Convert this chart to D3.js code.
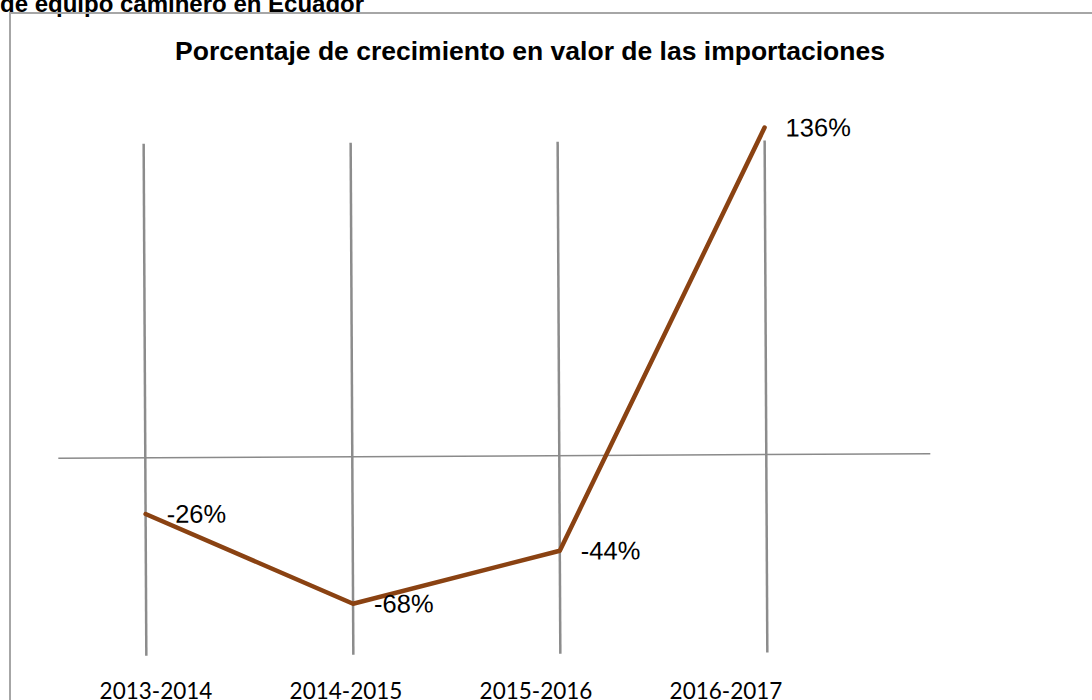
<!DOCTYPE html>
<html>
<head>
<meta charset="utf-8">
<script src="https://cdn.jsdelivr.net/npm/d3@7"></script>
<style>
  body { margin: 0; background: #fff; }
  svg { display: block; }
</style>
</head>
<body>
<div id="chart"></div>
<script>
// Data
const periods = ['2013-2014', '2014-2015', '2015-2016', '2016-2017'];
const growth = [-26, -68, -44, 136];
const valueLabels = ['-26%', '-68%', '-44%', '136%'];

const width = 1092, height = 700;

const svg = d3.select('#chart').append('svg')
    .attr('width', width)
    .attr('height', height);

// Heading of the document, cut at the top
svg.append('text')
    .attr('x', 0)
    .attr('y', 11.5)
    .attr('font-family', 'Liberation Sans, Arial, sans-serif')
    .attr('font-weight', 'bold')
    .attr('font-size', 24)
    .attr('fill', '#000')
    .text('de equipo caminero en Ecuador');

// Chart frame
svg.append('rect')
    .attr('x', 10)
    .attr('y', 13)
    .attr('width', 1100)
    .attr('height', 720)
    .attr('fill', 'none')
    .attr('stroke', '#a6a6a6')
    .attr('stroke-width', 2);

// Chart title
svg.append('text')
    .attr('x', 530)
    .attr('y', 60)
    .attr('text-anchor', 'middle')
    .attr('font-family', 'Liberation Sans, Arial, sans-serif')
    .attr('font-weight', 'bold')
    .attr('font-size', 26.5)
    .attr('fill', '#000')
    .text('Porcentaje de crecimiento en valor de las importaciones');

// Scales
const x = d3.scalePoint()
    .domain(periods)
    .range([145, 766]);

const y = d3.scaleLinear()
    .domain([-68, 0, 136])
    .range([603, 456, 129]);

// Plot area, very slightly tilted like the scan
const plot = svg.append('g')
    .attr('transform', 'rotate(-0.3, 494, 400)');

// Vertical gridlines
plot.selectAll('.grid')
    .data(periods)
    .enter()
    .append('line')
    .attr('class', 'grid')
    .attr('x1', d => x(d))
    .attr('x2', d => x(d))
    .attr('y1', 142)
    .attr('y2', 654)
    .attr('stroke', '#8c8c8c')
    .attr('stroke-width', 2.5);

// Zero axis line
plot.append('line')
    .attr('x1', 58)
    .attr('x2', 930)
    .attr('y1', y(0))
    .attr('y2', y(0))
    .attr('stroke', '#8a8a8a')
    .attr('stroke-width', 1.5);

// Growth line
const line = d3.line()
    .x((d, i) => x(periods[i]))
    .y(d => y(d));

plot.append('path')
    .datum(growth)
    .attr('d', line)
    .attr('fill', 'none')
    .attr('stroke', '#8a4212')
    .attr('stroke-width', 4.5)
    .attr('stroke-linejoin', 'round')
    .attr('stroke-linecap', 'round');

// Value labels
plot.selectAll('.val')
    .data(growth)
    .enter()
    .append('text')
    .attr('class', 'val')
    .attr('x', (d, i) => x(periods[i]) + 21)
    .attr('y', d => y(d) + 9)
    .attr('font-family', 'Liberation Sans, Arial, sans-serif')
    .attr('font-size', 25.5)
    .attr('fill', '#000')
    .text((d, i) => valueLabels[i]);

// Category labels along the bottom
const xLabel = d3.scalePoint()
    .domain(periods)
    .range([156, 726]);

svg.selectAll('.cat')
    .data(periods)
    .enter()
    .append('text')
    .attr('class', 'cat')
    .attr('x', d => xLabel(d))
    .attr('y', 699)
    .attr('text-anchor', 'middle')
    .attr('font-family', 'Lato, Carlito, Calibri, sans-serif')
    .attr('font-size', 22.5)
    .attr('fill', '#000')
    .text(d => d);
</script>
</body>
</html>
